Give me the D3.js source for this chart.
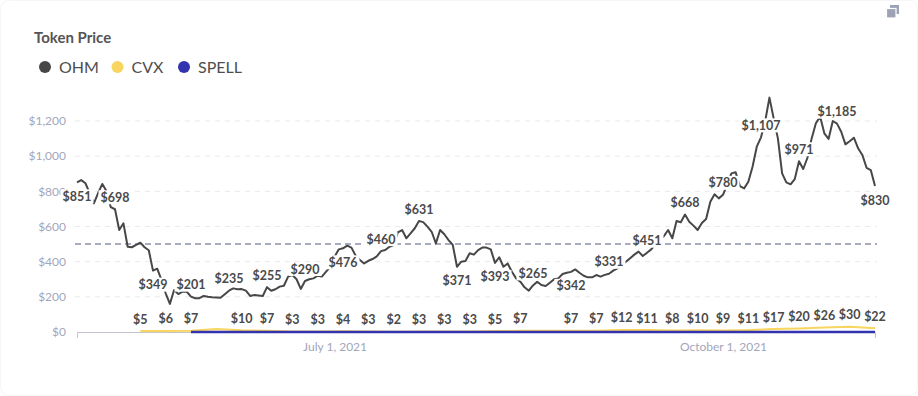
<!DOCTYPE html>
<html>
<head>
<meta charset="utf-8">
<script src="https://cdn.jsdelivr.net/npm/d3@7"></script>
<style>
  body { margin: 0; background: #fff; font-family: Lato, "Open Sans", sans-serif; }
  svg { display: block; }
</style>
</head>
<body>
<svg id="chart" width="918" height="396"></svg>
<script>
// daily OHM price, starting 1 May 2021
var startDate = new Date(2021, 4, 1);
var ohmPrices = [
  851, 864, 846, 790, 732, 790, 842, 800, 710, 698,
  580, 618, 485, 482, 495, 508, 482, 465, 349, 360,
  296, 220, 160, 239, 216, 229, 229, 201, 192, 192,
  205, 200, 197, 196, 195, 215, 235, 248, 243, 244,
  235, 205, 210, 208, 205, 255, 235, 243, 258, 263,
  315, 324, 300, 245, 290, 300, 305, 320, 315, 343,
  371, 428, 470, 476, 491, 480, 434, 410, 390, 405,
  415, 430, 460, 466, 485, 495, 567, 580, 533, 561,
  590, 631, 625, 599, 570, 504, 580, 556, 523, 495,
  371, 400, 404, 448, 440, 466, 480, 480, 470, 393,
  425, 371, 390, 343, 305, 286, 254, 235, 265, 286,
  267, 262, 280, 300, 305, 330, 337, 342, 356, 337,
  320, 311, 311, 324, 315, 325, 331, 349, 362, 380,
  400, 420, 440, 457, 432, 451, 470, 500, 520, 545,
  580, 533, 631, 624, 668, 627, 605, 580, 620, 643,
  741, 783, 760, 780, 840, 902, 908, 830, 817, 855,
  940, 1054, 1107, 1200, 1333, 1215, 1101, 902, 851, 840,
  870, 971, 927, 991, 1101, 1187, 1225, 1130, 1098, 1200,
  1185, 1139, 1067, 1085, 1105, 1045, 1007, 934, 921, 830
];
var ohmLabelStep = 9;
var ohmLabelsBelow = [0, 18, 63, 90, 99, 117, 189]; // day index of labels drawn under the point

// CVX, every 6 days from day 15
var cvxStart = 15, cvxStep = 6;
var cvxPrices = [5, 6, 7, 17, 10, 7, 3, 3, 4, 3, 2, 3, 3, 3, 5, 7, 7, 7, 7, 12, 11, 8, 10, 9, 11, 17, 20, 26, 30, 22];
var cvxUnlabelled = [33, 111];

// SPELL, every 6 days from day 27
var spellStart = 27, spellStep = 6;
var spellPrices = [0.0009, 0.0012, 0.0018, 0.0015, 0.0011, 0.0010, 0.0012, 0.0016, 0.0020, 0.0019,
  0.0022, 0.0030, 0.0045, 0.0040, 0.0035, 0.0042, 0.0050, 0.0060, 0.0080, 0.0090,
  0.0110, 0.0130, 0.0150, 0.0160, 0.0200, 0.0250, 0.0260, 0.0210];

var yTicks = [0, 200, 400, 600, 800, 1000, 1200];
var xTicks = [new Date(2021, 6, 1), new Date(2021, 9, 1)];
var refPrice = 500;

var series = [
  { name: "OHM", color: "#474747" },
  { name: "CVX", color: "#f8d55e" },
  { name: "SPELL", color: "#3333b0" }
];

var day = function(i) { return d3.timeDay.offset(startDate, i); };

var ohm = ohmPrices.map(function(v, i) { return { i: i, date: day(i), v: v }; });
var cvx = cvxPrices.map(function(v, k) { var i = cvxStart + k * cvxStep; return { i: i, date: day(i), v: v }; });
var spell = spellPrices.map(function(v, k) { var i = spellStart + k * spellStep; return { i: i, date: day(i), v: v }; });

var svg = d3.select("#chart");

// card
svg.append("rect")
  .attr("x", 0.5).attr("y", 0.5).attr("width", 917).attr("height", 395)
  .attr("rx", 8).attr("fill", "#fff").attr("stroke", "#f6f6f8");

// copy icon top right
svg.append("rect").attr("x", 890).attr("y", 5).attr("width", 9).attr("height", 9).attr("fill", "#9ea2b5");
svg.append("rect").attr("x", 886.5).attr("y", 8.5).attr("width", 9.5).attr("height", 9.5)
  .attr("fill", "#9ea2b5").attr("stroke", "#fff").attr("stroke-width", 1.2);

// title + legend
svg.append("text").attr("x", 34).attr("y", 43)
  .style("font-size", "15px").style("font-weight", 700).style("fill", "#555")
  .text("Token Price");

var legendX = [45, 117.5, 184];
var legend = svg.selectAll("g.legend").data(series).enter().append("g").attr("class", "legend")
  .attr("transform", function(d, i) { return "translate(" + legendX[i] + ",67)"; });
legend.append("circle").attr("r", 6).attr("fill", function(d) { return d.color; });
legend.append("text").attr("x", 14).attr("dy", "0.36em")
  .style("font-size", "16px").style("fill", "#4e4e4e")
  .text(function(d) { return d.name; });

var x = d3.scaleTime().domain([startDate, day(ohmPrices.length - 1)]).range([77, 875]);
var y = d3.scaleLinear().domain([0, 1200]).range([332, 121]);

// grid
svg.append("g").selectAll("line").data(yTicks.slice(1)).enter().append("line")
  .attr("x1", 75).attr("x2", 877)
  .attr("y1", function(d) { return y(d); }).attr("y2", function(d) { return y(d); })
  .attr("stroke", "#e9e9ee").attr("stroke-dasharray", "5,5");

svg.append("g").selectAll("text").data(yTicks).enter().append("text")
  .attr("x", 66).attr("y", function(d) { return y(d); }).attr("dy", "0.35em")
  .attr("text-anchor", "end")
  .style("font-size", "12px").style("fill", "#a3a6bb")
  .text(function(d) { return "$" + d3.format(",")(d); });

// reference line
svg.append("line").attr("x1", 75).attr("x2", 877)
  .attr("y1", y(refPrice)).attr("y2", y(refPrice))
  .attr("stroke", "#8d91aa").attr("stroke-width", 1.5).attr("stroke-dasharray", "6,4");

// x axis
var xAxis = svg.append("g").attr("transform", "translate(0,332)")
  .call(d3.axisBottom(x).tickValues(xTicks).tickSizeInner(0).tickSizeOuter(6).tickPadding(10)
    .tickFormat(d3.timeFormat("%B %-d, %Y")));
xAxis.select(".domain").attr("stroke", "#c3c4cc");
xAxis.selectAll("text").style("font-size", "12px").style("fill", "#a3a6bb").style("font-family", "Lato, sans-serif");

var line = d3.line().x(function(d) { return x(d.date); }).y(function(d) { return y(d.v); });

svg.append("path").datum(cvx).attr("d", line)
  .attr("fill", "none").attr("stroke", series[1].color).attr("stroke-width", 2);
svg.append("path").datum(spell).attr("d", line)
  .attr("fill", "none").attr("stroke", series[2].color).attr("stroke-width", 2.5);
svg.append("path").datum(ohm).attr("d", line)
  .attr("fill", "none").attr("stroke", series[0].color).attr("stroke-width", 2).attr("stroke-linejoin", "round");

// data labels with white box behind
var labels = svg.append("g").style("font-size", "12.5px").style("font-weight", 700).style("fill", "#4a4a4a");
function addLabel(px, py, txt) {
  var g = labels.append("g");
  var t = g.append("text").attr("x", px).attr("y", py).attr("dy", "0.36em")
    .attr("text-anchor", "middle").text(txt);
  var w = t.node().getComputedTextLength();
  g.insert("rect", "text").attr("x", px - w / 2 - 2).attr("y", py - 7)
    .attr("width", w + 4).attr("height", 14).attr("fill", "#fff");
}
var money = function(v) { return "$" + d3.format(",")(Math.round(v)); };

ohm.filter(function(d) { return d.i % ohmLabelStep === 0; }).forEach(function(d) {
  var below = ohmLabelsBelow.indexOf(d.i) >= 0;
  addLabel(x(d.date), y(d.v) + (below ? 14 : -12), money(d.v));
});
cvx.filter(function(d) { return cvxUnlabelled.indexOf(d.i) < 0; }).forEach(function(d) {
  addLabel(x(d.date), y(d.v) - 12, money(d.v));
});
</script>
</body>
</html>
